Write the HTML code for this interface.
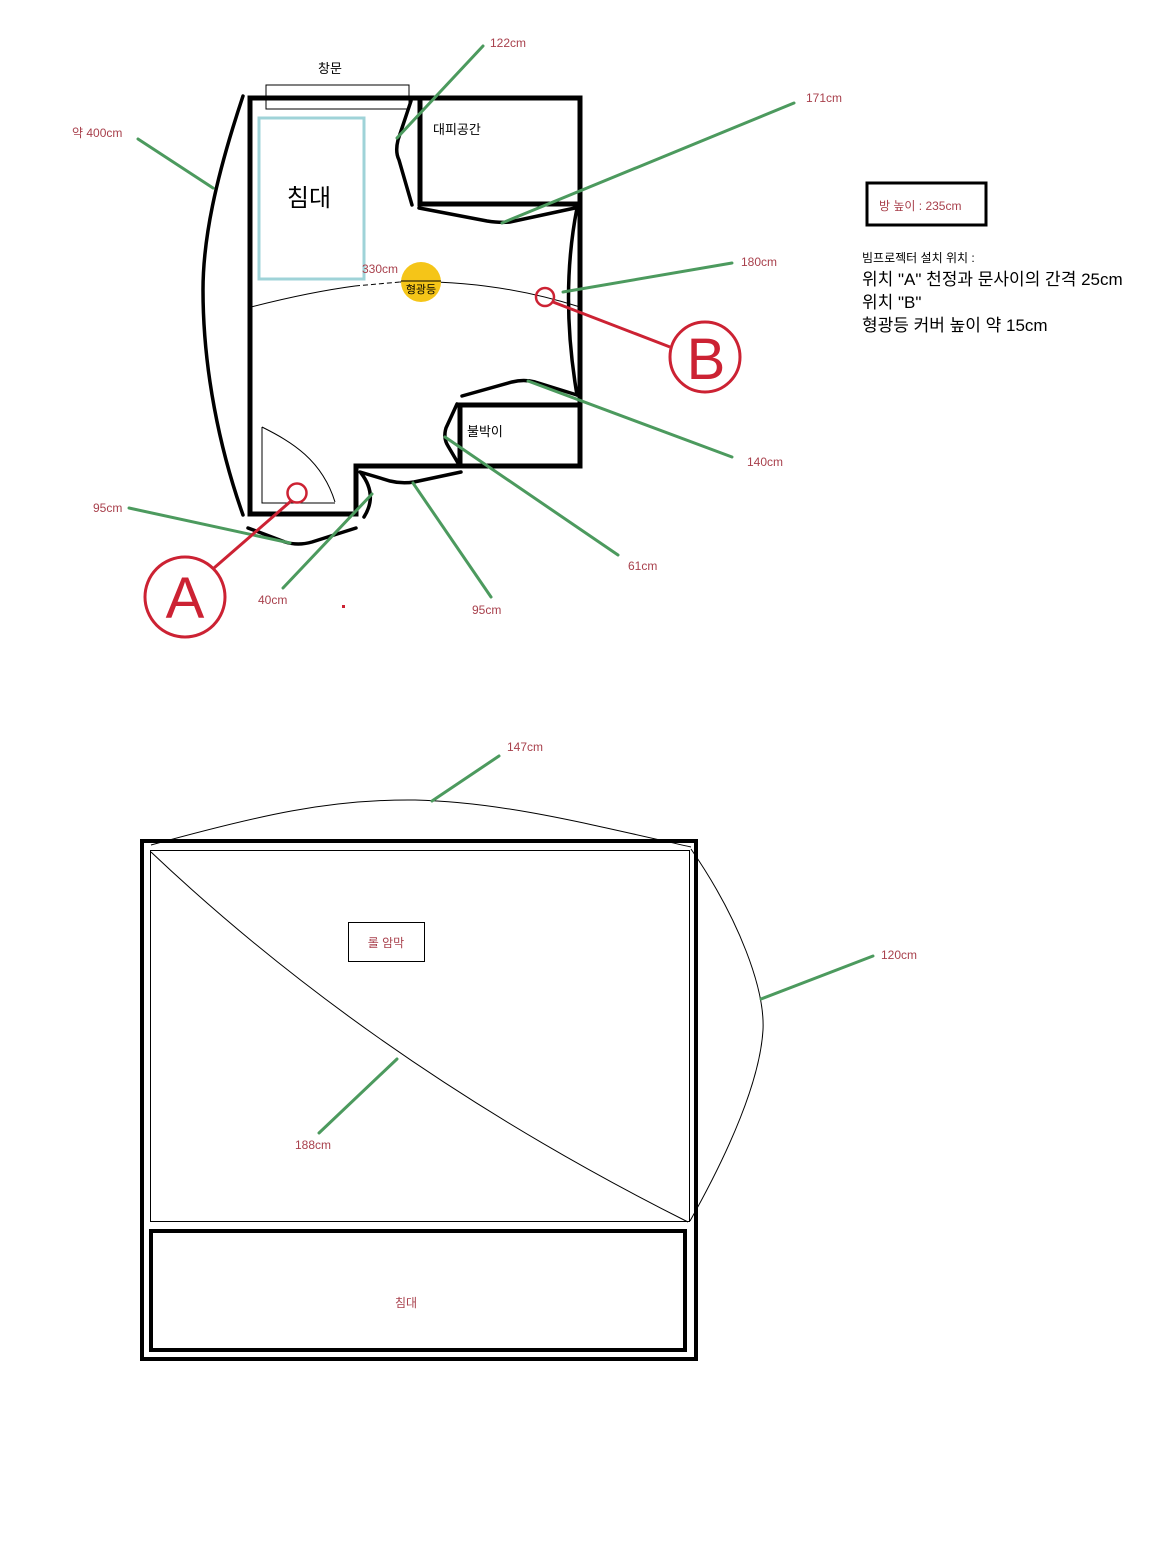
<!DOCTYPE html>
<html><head><meta charset="utf-8"><style>
html,body{margin:0;padding:0;background:#fff;}
svg{display:block;}
text{font-family:"Liberation Sans","Noto Sans CJK KR",sans-serif;}
.lb{fill:#a8404c;font-size:12px;}
.g{stroke:#4c9a5e;stroke-width:3;fill:none;stroke-linecap:round;}
.k{stroke:#000;stroke-width:3.5;fill:none;stroke-linecap:round;}
</style></head><body>
<svg width="1152" height="1543" viewBox="0 0 1152 1543" xmlns="http://www.w3.org/2000/svg">
<rect width="1152" height="1543" fill="#fff"/>

<!-- ===== TOP FLOOR PLAN ===== -->
<rect x="266" y="85" width="143" height="24" fill="none" stroke="#000" stroke-width="1"/>
<text x="330" y="73" font-size="13" text-anchor="middle" fill="#000">창문</text>

<path d="M250 98 H580 V466 H356 V514 H250 Z" fill="none" stroke="#000" stroke-width="5"/>
<rect x="420" y="98" width="160" height="106" fill="none" stroke="#000" stroke-width="5"/>
<rect x="460" y="405" width="120" height="61" fill="none" stroke="#000" stroke-width="5"/>

<rect x="259" y="118" width="105" height="161" fill="none" stroke="#9fd3d8" stroke-width="3"/>
<text x="309" y="206" font-size="24" text-anchor="middle" fill="#000">침대</text>

<text x="433" y="134" font-size="13" fill="#000">대피공간</text>
<text x="467" y="436" font-size="13" fill="#000">불박이</text>

<path d="M262 427 V503 H335" fill="none" stroke="#000" stroke-width="1"/>
<path d="M262 427 C292 442 322 460 335 502" fill="none" stroke="#000" stroke-width="1"/>

<path class="k" d="M243 96 C215 180 203 240 203 290 C203 370 220 450 243 515"/>
<path class="k" d="M411 101 L398 140 Q395 152 399 160 L412 205"/>
<path class="k" d="M419 208 L487 221 Q500 223 510 222 L575 208"/>
<path class="k" d="M577 208 Q560 295 577 395"/>
<path class="k" d="M462 396 L512 382 Q524 379 535 382 L577 395"/>
<path class="k" d="M457 404 L446 428 Q443 438 448 446 L458 463"/>
<path class="k" d="M360 472 L390 481 Q402 484 414 482 L461 472"/>
<path class="k" d="M361 473 Q378 495 364 517"/>
<path class="k" d="M248 528 L285 542 Q298 546 312 542 L356 528"/>

<path d="M251 307 C290 297 325 290 355 286" fill="none" stroke="#000" stroke-width="1"/>
<path d="M355 286 L400 282" fill="none" stroke="#000" stroke-width="1" stroke-dasharray="5,3"/>
<path d="M400 282 C460 280 520 288 580 307" fill="none" stroke="#000" stroke-width="1"/>
<text x="362" y="273" class="lb">330cm</text>

<circle cx="421" cy="282" r="20" fill="#f5c518"/>
<line x1="401" y1="281" x2="441" y2="281" stroke="#000" stroke-width="1"/>
<text x="421" y="293" font-size="11" text-anchor="middle" fill="#000">형광등</text>

<line class="g" x1="138" y1="139" x2="213" y2="188"/>
<line class="g" x1="129" y1="508" x2="290" y2="543"/>
<line class="g" x1="372" y1="494" x2="283" y2="588"/>
<line class="g" x1="413" y1="483" x2="491" y2="597"/>
<line class="g" x1="445" y1="437" x2="618" y2="555"/>
<line class="g" x1="528" y1="381" x2="732" y2="457"/>
<line class="g" x1="563" y1="292" x2="732" y2="263"/>
<line class="g" x1="502" y1="223" x2="794" y2="103"/>
<line class="g" x1="397" y1="138" x2="483" y2="46"/>

<text x="72" y="137" class="lb">약 400cm</text>
<text x="93" y="512" class="lb">95cm</text>
<text x="258" y="604" class="lb">40cm</text>
<text x="472" y="614" class="lb">95cm</text>
<text x="628" y="570" class="lb">61cm</text>
<text x="747" y="466" class="lb">140cm</text>
<text x="741" y="266" class="lb">180cm</text>
<text x="806" y="102" class="lb">171cm</text>
<text x="490" y="47" class="lb">122cm</text>

<circle cx="297" cy="493" r="9.5" fill="none" stroke="#cc2233" stroke-width="2.5"/>
<line x1="291" y1="501" x2="214" y2="568" stroke="#cc2233" stroke-width="3"/>
<circle cx="185" cy="597" r="40" fill="none" stroke="#cc2233" stroke-width="3"/>
<text x="185" y="618" font-size="58" text-anchor="middle" fill="#cc2233">A</text>

<circle cx="545" cy="297" r="9" fill="none" stroke="#cc2233" stroke-width="2.5"/>
<line x1="553" y1="302" x2="670" y2="347" stroke="#cc2233" stroke-width="3"/>
<circle cx="705" cy="357" r="35" fill="none" stroke="#cc2233" stroke-width="3"/>
<text x="706" y="379" font-size="58" text-anchor="middle" fill="#cc2233">B</text>

<rect x="342" y="605" width="3" height="3" fill="#cc2233"/>

<rect x="867" y="183" width="119" height="42" fill="none" stroke="#000" stroke-width="3"/>
<text x="879" y="210" class="lb" font-size="12">방 높이 : 235cm</text>
<text x="862" y="262" font-size="12" fill="#000">빔프로젝터 설치 위치 :</text>
<text x="862" y="285" font-size="17" fill="#000">위치 "A" 천정과 문사이의 간격 25cm</text>
<text x="862" y="308" font-size="17" fill="#000">위치 "B"</text>
<text x="862" y="331" font-size="17" fill="#000">형광등 커버 높이 약 15cm</text>

<!-- ===== BOTTOM DIAGRAM ===== -->
<rect x="142" y="841" width="554" height="518" fill="none" stroke="#000" stroke-width="4"/>
<rect x="150.5" y="850.5" width="539" height="371" fill="none" stroke="#000" stroke-width="1"/>
<rect x="151" y="1231" width="534" height="119" fill="none" stroke="#000" stroke-width="4"/>

<path d="M151 845 C260 815 330 799 415 800 C500 802 580 822 691 847" fill="none" stroke="#000" stroke-width="1"/>
<path d="M151 852 Q377 1066 688 1222" fill="none" stroke="#000" stroke-width="1"/>
<path d="M691 849 C740 920 765 990 763 1030 C760 1080 730 1150 690 1221" fill="none" stroke="#000" stroke-width="1"/>

<line class="g" x1="432" y1="801" x2="499" y2="756"/>
<line class="g" x1="397" y1="1059" x2="319" y2="1133"/>
<line class="g" x1="761" y1="999" x2="873" y2="956"/>

<text x="507" y="751" class="lb">147cm</text>
<text x="295" y="1149" class="lb">188cm</text>
<text x="881" y="959" class="lb">120cm</text>

<rect x="348.5" y="922.5" width="76" height="39" fill="none" stroke="#000" stroke-width="1"/>
<text x="386" y="947" class="lb" text-anchor="middle">롤 암막</text>
<text x="406" y="1307" class="lb" text-anchor="middle">침대</text>
</svg>
</body></html>
